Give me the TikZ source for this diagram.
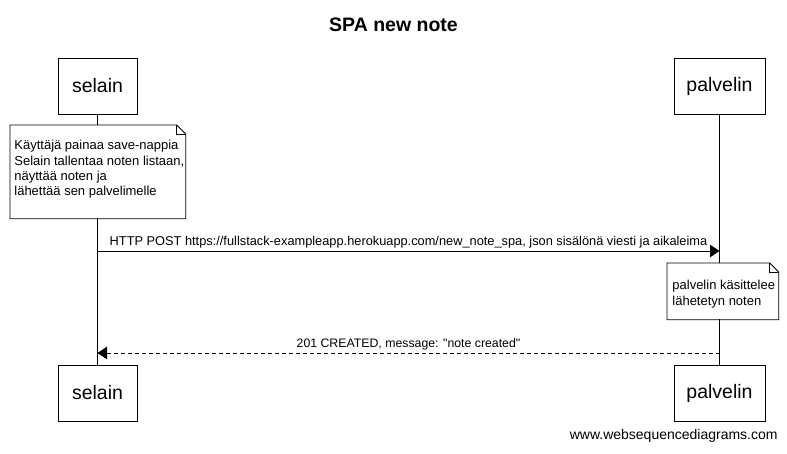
\documentclass[tikz,border=0pt]{standalone}
\usepackage{fontspec}
\setmainfont{Liberation Sans}[Ligatures=TeXOff]
\usetikzlibrary{arrows.meta}

% note frame with folded corner, drawn round a named node
\newcommand{\dogear}[2][9pt]{%
  \draw (#2.north west) -- ([xshift=-#1]#2.north east) -- ([yshift=-#1]#2.north east)
        -- (#2.south east) -- (#2.south west) -- cycle;
  \draw ([xshift=-#1]#2.north east) |- ([yshift=-#1]#2.north east);
}

\begin{document}
\begin{tikzpicture}[x=1pt, y=-1pt, line width=0.8pt,
    font=\fontsize{12.3}{15}\selectfont]
    \useasboundingbox (0,0) rectangle (787,453);
    \tikzset{
      actor/.style={draw, fill=white, minimum height=56, inner sep=0,
        font=\fontsize{19.5}{23}\selectfont},
      notebox/.style={draw=none, fill=white, anchor=north west, inner sep=0},
      notetext/.style={align=left, anchor=north west, inner sep=0,
        font=\fontsize{13}{15.2}\selectfont},
      msg/.style={-{Triangle[length=9.5pt, width=12.5pt]}},
      reply/.style={msg, dash pattern=on 4pt off 3pt}
    }
    % title
    \node[font=\bfseries\fontsize{19.5}{23}\selectfont] (title) at (393.5,25) {SPA new note};
    % participants, top and bottom
    \foreach \nm/\x/\w in {selain/97.5/79, palvelin/719.5/91} {
      \node[actor, minimum width=\w] (\nm top) at (\x,86) {\nm};
      \node[actor, minimum width=\w] (\nm bot) at (\x,393) {\nm};
      \draw (\nm top) -- (\nm bot);
    }
    % first note
    \node[notebox, minimum width=175, minimum height=93] (savenote) at (10,125) {};
    \dogear{savenote}
    \node[notetext] (savetext) at (14,140)
      {Käyttäjä painaa save-nappia\\Selain tallentaa noten listaan,\\näyttää noten ja\\lähettää sen palvelimelle};
    % messages
    \coordinate (post from) at (97.5,251);
    \coordinate (post to) at (719.5,251);
    \draw[msg] (post from) -- node[above, inner sep=2.5, font=\fontsize{12.8}{15}\selectfont] (post label)
      {HTTP POST https://fullstack-exampleapp.herokuapp.com/new\_note\_spa, json sisälönä viesti ja aikaleima} (post to);
    \node[notebox, minimum width=111, minimum height=56] (handlenote) at (667,263) {};
    \dogear{handlenote}
    \node[notetext] (handletext) at (672,280) {palvelin käsittelee\\lähetetyn noten};
    \coordinate (reply from) at (719.5,353);
    \coordinate (reply to) at (97.5,353);
    \draw[reply] (reply from) -- node[above, inner sep=2.5] (reply label)
      {201 CREATED, message: "note created"} (reply to);
    % credit
    \node[anchor=east, inner sep=0, font=\fontsize{14}{16}\selectfont] (credit) at (778,436) {www.websequencediagrams.com};
\end{tikzpicture}
\end{document}
